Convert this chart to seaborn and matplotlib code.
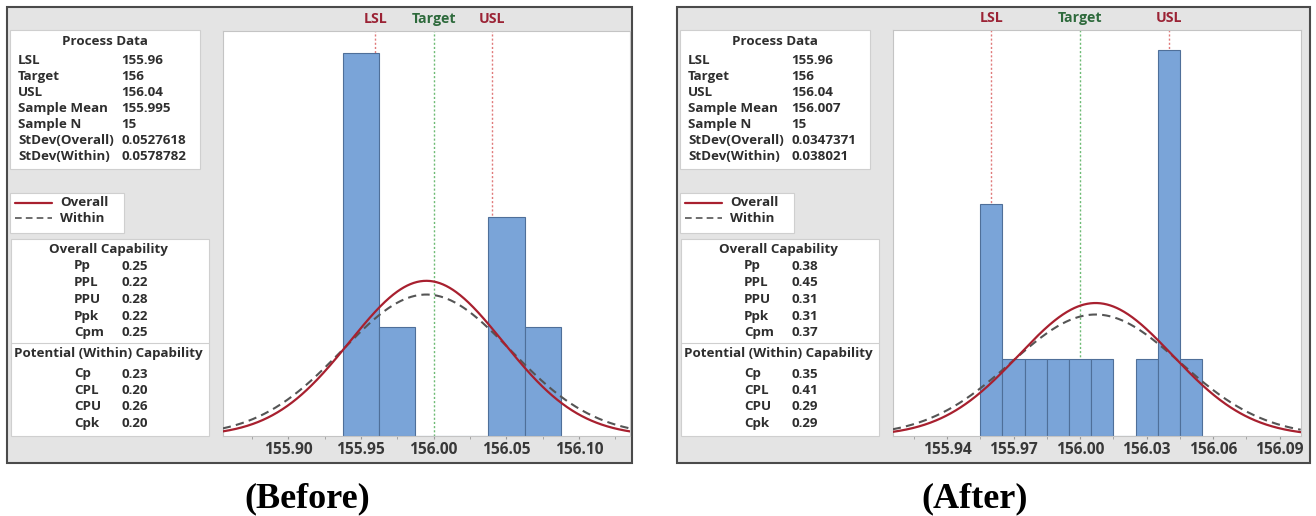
import numpy as np
import pandas as pd
import matplotlib
matplotlib.use("Agg")
import matplotlib.pyplot as plt
from matplotlib.patches import Rectangle
import seaborn as sns

# ---------------- data ----------------
process_labels = ["LSL", "Target", "USL", "Sample Mean", "Sample N",
                  "StDev(Overall)", "StDev(Within)"]
before_process = ["155.96", "156", "156.04", "155.995", "15", "0.0527618", "0.0578782"]
after_process = ["155.96", "156", "156.04", "156.007", "15", "0.0347371", "0.038021"]

overall_labels = ["Pp", "PPL", "PPU", "Ppk", "Cpm"]
before_overall = ["0.25", "0.22", "0.28", "0.22", "0.25"]
after_overall = ["0.38", "0.45", "0.31", "0.31", "0.37"]

within_labels = ["Cp", "CPL", "CPU", "Cpk"]
before_within = ["0.23", "0.20", "0.26", "0.20"]
after_within = ["0.35", "0.41", "0.29", "0.29"]

before_bin_centers = [155.950, 155.975, 156.000, 156.025, 156.050, 156.075]
before_counts = [7, 2, 0, 0, 4, 2]
after_bin_centers = [155.96, 155.97, 155.98, 155.99, 156.00, 156.01,
                     156.02, 156.03, 156.04, 156.05]
after_counts = [3, 1, 1, 1, 1, 1, 0, 1, 5, 1]

before_ticks = [155.90, 155.95, 156.00, 156.05, 156.10]
after_ticks = [155.94, 155.97, 156.00, 156.03, 156.06, 156.09]

panel_titles = ["(Before)", "(After)"]

# ---------------- style ----------------
sns.set_style("white")
plt.rcParams["font.family"] = ["Open Sans", "DejaVu Sans"]

W, H = 1316, 516
FRAME_BG = "#e4e4e4"
FRAME_EDGE = "#4a4a4a"
BOX_EDGE = "#cfcfcf"
TXT = "#2e2e2e"
BAR = "#7aa4d8"
BAR_EDGE = "#4f6f99"
RED = "#a8202f"
DASH = "#555555"
SPEC_RED = "#e07a7a"
SPEC_GREEN = "#6dbb74"
LAB_RED = "#9b2335"
LAB_GREEN = "#2e6a3c"
FS = 9.6
WT = "bold"

fig = plt.figure(figsize=(W / 100, H / 100), dpi=100)
fig.patch.set_facecolor("white")

# background canvas in pixel coordinates
bg = fig.add_axes([0, 0, 1, 1])
bg.set_xlim(0, W)
bg.set_ylim(H, 0)
bg.axis("off")

panels = [
    dict(process=before_process, overall=before_overall, within=before_within,
         centers=before_bin_centers, counts=before_counts, ticks=before_ticks,
         frame=(7, 632), plot=(222.7, 630.0, 31, 436),
         xlim=(155.855, 156.135), ylim=(0, 7.4), title_x=307),
    dict(process=after_process, overall=after_overall, within=after_within,
         centers=after_bin_centers, counts=after_counts, ticks=after_ticks,
         frame=(677, 1310), plot=(892.7, 1300.7, 30, 436),
         xlim=(155.9155, 156.0995), ylim=(0, 5.26), title_x=975),
]


def box(x0, y0, x1, y1):
    bg.add_patch(Rectangle((x0, y0), x1 - x0, y1 - y0, facecolor="white",
                           edgecolor=BOX_EDGE, linewidth=0.8, zorder=2))


def label(x, y, s, ha="left"):
    bg.text(x, y, s, ha=ha, va="center", fontsize=FS, fontweight=WT,
            color=TXT, zorder=3)


for k, p in enumerate(panels):
    fx0, fx1 = p["frame"]
    # outer frame
    bg.add_patch(Rectangle((fx0, 7), fx1 - fx0, 456, facecolor=FRAME_BG,
                           edgecolor=FRAME_EDGE, linewidth=1.5, zorder=1))

    # process data table
    box(fx0 + 3, 30, fx0 + 193, 169)
    label(fx0 + 98, 41.5, "Process Data", ha="center")
    for i, (lab, val) in enumerate(zip(process_labels, p["process"])):
        y = 60 + 16.1 * i
        label(fx0 + 11, y, lab)
        label(fx0 + 114.7, y, val)

    # legend
    box(fx0 + 3, 193, fx0 + 117, 233)
    bg.plot([fx0 + 8, fx0 + 45], [203, 203], color=RED, lw=1.6, zorder=3)
    bg.plot([fx0 + 8, fx0 + 45], [218, 218], color=DASH, lw=1.2,
            dashes=(4, 2.5), zorder=3)
    label(fx0 + 53, 203, "Overall")
    label(fx0 + 53, 218, "Within")

    # capability table
    box(fx0 + 4, 239, fx0 + 202, 436)
    bg.plot([fx0 + 4, fx0 + 202], [343.3, 343.3], color=BOX_EDGE, lw=0.8, zorder=3)
    label(fx0 + 101, 249, "Overall Capability", ha="center")
    for i, (lab, val) in enumerate(zip(overall_labels, p["overall"])):
        y = 266 + 16.7 * i
        label(fx0 + 67, y, lab)
        label(fx0 + 114, y, val)
    label(fx0 + 101, 354, "Potential (Within) Capability", ha="center")
    for i, (lab, val) in enumerate(zip(within_labels, p["within"])):
        y = 374 + 16.5 * i
        label(fx0 + 67, y, lab)
        label(fx0 + 114, y, val)

    # panel caption
    bg.text(p["title_x"], 499, panel_titles[k], ha="center",
            va="center", fontsize=26, fontweight="bold",
            family="Liberation Serif", color="black", zorder=3)

    # histogram area
    px0, px1, py0, py1 = p["plot"]
    ax = fig.add_axes([px0 / W, 1 - py1 / H, (px1 - px0) / W, (py1 - py0) / H])
    ax.set_facecolor("white")

    lsl, target, usl = (float(v) for v in p["process"][:3])
    mean = float(p["process"][3])
    n = int(p["process"][4])
    sd_overall = float(p["process"][5])
    sd_within = float(p["process"][6])

    centers = np.array(p["centers"])
    counts = np.array(p["counts"])
    width = centers[1] - centers[0]
    edges = np.append(centers - width / 2, centers[-1] + width / 2).tolist()
    hist_df = pd.DataFrame({"value": centers, "count": counts})
    hist_df = hist_df[hist_df["count"] > 0]

    # spec limit reference lines (behind bars)
    for v, c in [(lsl, SPEC_RED), (target, SPEC_GREEN), (usl, SPEC_RED)]:
        ax.axvline(v, color=c, lw=1.0, linestyle=(0, (1.5, 1.5)), zorder=0.5)

    sns.histplot(data=hist_df, x="value", weights="count", bins=edges, ax=ax,
                 color=BAR, edgecolor=BAR_EDGE, linewidth=0.8, alpha=1.0,
                 zorder=2)

    xs = np.linspace(p["xlim"][0], p["xlim"][1], 500)
    scale = n * width

    def normal(sd):
        return scale * np.exp(-0.5 * ((xs - mean) / sd) ** 2) / (sd * np.sqrt(2 * np.pi))

    sns.lineplot(x=xs, y=normal(sd_within), ax=ax, color=DASH, lw=1.5,
                 linestyle=(0, (4, 2.5)), zorder=3)
    sns.lineplot(x=xs, y=normal(sd_overall), ax=ax, color=RED, lw=1.6, zorder=4)

    ax.set_xlim(*p["xlim"])
    ax.set_ylim(*p["ylim"])
    ax.set_xlabel("")
    ax.set_ylabel("")
    ax.set_yticks([])
    ticks = p["ticks"]
    step = ticks[1] - ticks[0]
    ax.set_xticks(ticks)
    ax.set_xticklabels([f"{t:.2f}" for t in ticks], fontsize=11.2,
                       fontweight=WT, color="#383838")
    minor = np.arange(ticks[0] - step / 2, p["xlim"][1], step / 2)
    ax.set_xticks([m for m in minor if p["xlim"][0] < m < p["xlim"][1]], minor=True)
    ax.tick_params(axis="x", which="both", direction="out", length=2.5,
                   color="#9a9a9a", pad=2, bottom=True)
    for s in ax.spines.values():
        s.set_color("#c4c4c4")
        s.set_linewidth(0.8)

    # spec labels above the plot area
    for v, lab, c in [(lsl, "LSL", LAB_RED), (target, "Target", LAB_GREEN),
                      (usl, "USL", LAB_RED)]:
        ax.annotate(lab, xy=(v, 1), xycoords=("data", "axes fraction"),
                    xytext=(0, 8.5), textcoords="offset points", ha="center",
                    va="center", fontsize=10.2, fontweight=WT, color=c)

fig.savefig("out.png", dpi=100)
